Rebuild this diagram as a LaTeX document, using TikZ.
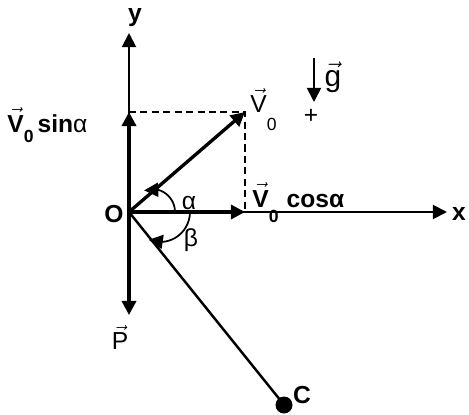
\documentclass[tikz,border=0pt]{standalone}
\usepackage{amsmath}
\usepackage{fontspec}
\setmainfont{Liberation Sans}
\usetikzlibrary{arrows.meta,bending}

\begin{document}
\begin{tikzpicture}[>={Triangle[length=8pt,width=8pt]},
  axis/.style={line width=1.1pt},
  vect/.style={line width=1.9pt},
  proj/.style={line width=0.9pt,dash pattern=on 4pt off 2.5pt},
  turn/.style={line width=1pt,-{Triangle[length=8pt,width=8pt,flex]}},
  lbl/.style={font=\fontsize{14}{16}\selectfont\bfseries},
  txt/.style={font=\fontsize{14}{16}\selectfont}]
\useasboundingbox (-2.58,-4.04) rectangle (6.8,4.24);
\coordinate (O) at (0,0);
\coordinate (Y) at (0,3.58);
\coordinate (X) at (6.36,0);
\coordinate (P) at (0,-2.06);
\coordinate (V) at (2.32,2.0);
\coordinate (Vy) at (0,2.0);
\coordinate (Vx) at (2.32,0);
\coordinate (C) at (3.1,-3.86);
\coordinate (Cend) at (3.2,-3.98);
\coordinate (Gtop) at (3.7,3.08);
\coordinate (Gtip) at (3.7,2.2);
% axes
\draw[axis,->] (O) -- (Y);
\draw[axis,->] (O) -- (X);
% components
\draw[proj] (Vy) -- (V) -- (Vx);
\draw[vect,->] (O) -- (Vy);
\draw[vect,->] (O) -- (Vx);
\draw[vect,->] (O) -- (V);
\draw[vect,->] (O) -- (P);
% path to C
\draw[line width=1.4pt] (O) -- (Cend);
\fill (C) circle (0.17);
% angles
\draw[turn] (0.92,0) arc[start angle=0,end angle=110,radius=0.46];
\draw[turn] (1.22,0) arc[start angle=0,end angle=-112,radius=0.6];
% gravity
\draw[line width=1pt,->] (Gtop) -- (Gtip);
\node[txt,font=\fontsize{17}{19}\selectfont] (g) at (4.08,2.7) {$\vec{\text{g}}$};
\node[txt] (plus) at (3.64,1.92) {+};
% labels
\node[lbl] (ylbl) at (0.12,3.88) {y};
\node[lbl] (xlbl) at (6.6,-0.04) {x};
\node[lbl] (olbl) at (-0.3,-0.04) {O};
\node[lbl] (clbl) at (3.46,-3.66) {C};
\node[txt] (alpha) at (1.2,0.18) {α};
\node[txt] (beta) at (1.24,-0.56) {β};
\node[txt] (plbl) at (-0.18,-2.5) {$\vec{\text{P}}$};
\node[txt,anchor=base west,inner sep=0pt] (vlbl) at (2.42,1.98)
  {$\vec{\text{V}}$\raisebox{-10pt}{\fontsize{10}{12}\selectfont 0}};
\node[lbl,anchor=base west,inner sep=0pt] (vsin) at (-2.44,1.6)
  {$\vec{\textbf{V}}$\raisebox{-6pt}{\fontsize{10}{12}\selectfont 0}\,sin{\mdseries α}};
\node[lbl,anchor=base west,inner sep=0pt] (vcos) at (2.46,0.1)
  {$\vec{\textbf{V}}$\raisebox{-9pt}{\fontsize{10}{12}\selectfont 0}\,\,cosα};
\end{tikzpicture}
\end{document}
